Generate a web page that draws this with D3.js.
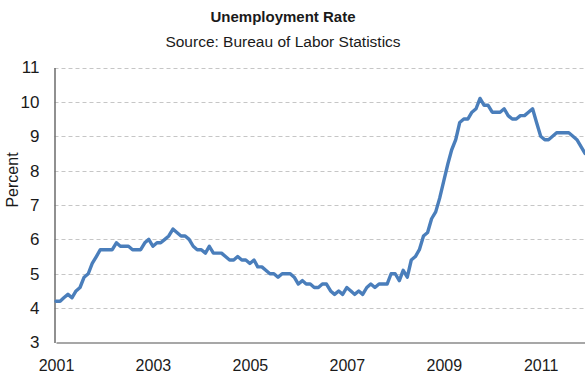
<!DOCTYPE html>
<html>
<head>
<meta charset="utf-8">
<script src="https://cdn.jsdelivr.net/npm/d3@7"></script>
<style>
  html, body { margin: 0; padding: 0; background: #fff; overflow: hidden; }
  svg { display: block; font-family: "Liberation Sans", "DejaVu Sans", sans-serif; }
</style>
</head>
<body>
<div id="chart"></div>
<script>
// monthly unemployment rate, Jan 2001 .. Dec 2011 (one row per year)
const years = [2001, 2002, 2003, 2004, 2005, 2006, 2007, 2008, 2009, 2010, 2011];
const rates = [
  [4.2, 4.2, 4.3, 4.4, 4.3, 4.5, 4.6, 4.9, 5.0, 5.3, 5.5, 5.7],
  [5.7, 5.7, 5.7, 5.9, 5.8, 5.8, 5.8, 5.7, 5.7, 5.7, 5.9, 6.0],
  [5.8, 5.9, 5.9, 6.0, 6.1, 6.3, 6.2, 6.1, 6.1, 6.0, 5.8, 5.7],
  [5.7, 5.6, 5.8, 5.6, 5.6, 5.6, 5.5, 5.4, 5.4, 5.5, 5.4, 5.4],
  [5.3, 5.4, 5.2, 5.2, 5.1, 5.0, 5.0, 4.9, 5.0, 5.0, 5.0, 4.9],
  [4.7, 4.8, 4.7, 4.7, 4.6, 4.6, 4.7, 4.7, 4.5, 4.4, 4.5, 4.4],
  [4.6, 4.5, 4.4, 4.5, 4.4, 4.6, 4.7, 4.6, 4.7, 4.7, 4.7, 5.0],
  [5.0, 4.8, 5.1, 4.9, 5.4, 5.5, 5.7, 6.1, 6.2, 6.6, 6.8, 7.2],
  [7.7, 8.2, 8.6, 8.9, 9.4, 9.5, 9.5, 9.7, 9.8, 10.1, 9.9, 9.9],
  [9.7, 9.7, 9.7, 9.8, 9.6, 9.5, 9.5, 9.6, 9.6, 9.7, 9.8, 9.4],
  [9.0, 8.9, 8.9, 9.0, 9.1, 9.1, 9.1, 9.1, 9.0, 8.9, 8.7, 8.5]
];
const yTicks = [3, 4, 5, 6, 7, 8, 9, 10, 11];
const xTickYears = [2001, 2003, 2005, 2007, 2009, 2011];

const width = 585, height = 376;
const margin = { top: 67.5, right: 0, bottom: 33.5, left: 54.5 };

const data = [];
rates.forEach((row, yi) => row.forEach((v, m) => data.push({ date: new Date(years[yi], m, 1), value: v })));

const svg = d3.select('#chart').append('svg')
  .attr('width', width)
  .attr('height', height);

const x = d3.scaleTime()
  .domain([new Date(2001, 0, 1), new Date(2011, 11, 1)])
  .range([56, 585]);

const y = d3.scaleLinear()
  .domain([3, 11])
  .range([height - margin.bottom, margin.top]);

// dashed gridlines
svg.append('g')
  .selectAll('line')
  .data(yTicks.filter(d => d > 3))
  .join('line')
  .attr('x1', margin.left)
  .attr('x2', width)
  .attr('y1', d => Math.round(y(d)) + 0.5)
  .attr('y2', d => Math.round(y(d)) + 0.5)
  .attr('stroke', '#c6c6c6')
  .attr('stroke-width', 1)
  .attr('stroke-dasharray', '4,3');

// y axis
const yAxis = svg.append('g')
  .attr('transform', `translate(${margin.left},0)`)
  .call(d3.axisLeft(y).tickValues(yTicks).tickSize(0).tickPadding(15));
yAxis.select('.domain').attr('stroke', '#6b6b6b').attr('stroke-width', 1.5);
yAxis.selectAll('text').attr('font-size', 17).attr('fill', '#1a1a1a');

// x axis
const xAxis = svg.append('g')
  .attr('transform', `translate(0,${y(3)})`)
  .call(d3.axisBottom(x)
    .tickValues(xTickYears.map(yr => new Date(yr, 0, 1)))
    .tickFormat(d3.timeFormat('%Y'))
    .tickSize(0)
    .tickPadding(17));
xAxis.select('.domain').attr('stroke', '#8a8a8a').attr('stroke-width', 1.5);
xAxis.selectAll('text').attr('font-size', 16).attr('fill', '#1a1a1a');

// line
const line = d3.line()
  .x(d => x(d.date))
  .y(d => y(d.value));

svg.append('path')
  .datum(data)
  .attr('d', line)
  .attr('fill', 'none')
  .attr('stroke', '#4a7ebb')
  .attr('stroke-width', 3.4)
  .attr('stroke-linejoin', 'round')
  .attr('stroke-linecap', 'round');

// titles
svg.append('text')
  .attr('x', 283)
  .attr('y', 22)
  .attr('text-anchor', 'middle')
  .attr('font-size', 15)
  .attr('font-weight', 'bold')
  .attr('fill', '#1a1a1a')
  .text('Unemployment Rate');

svg.append('text')
  .attr('x', 283)
  .attr('y', 47)
  .attr('text-anchor', 'middle')
  .attr('font-size', 15.5)
  .attr('fill', '#1a1a1a')
  .text('Source: Bureau of Labor Statistics');

svg.append('text')
  .attr('transform', 'translate(18,180) rotate(-90)')
  .attr('text-anchor', 'middle')
  .attr('font-size', 16)
  .attr('fill', '#1a1a1a')
  .text('Percent');
</script>
</body>
</html>
